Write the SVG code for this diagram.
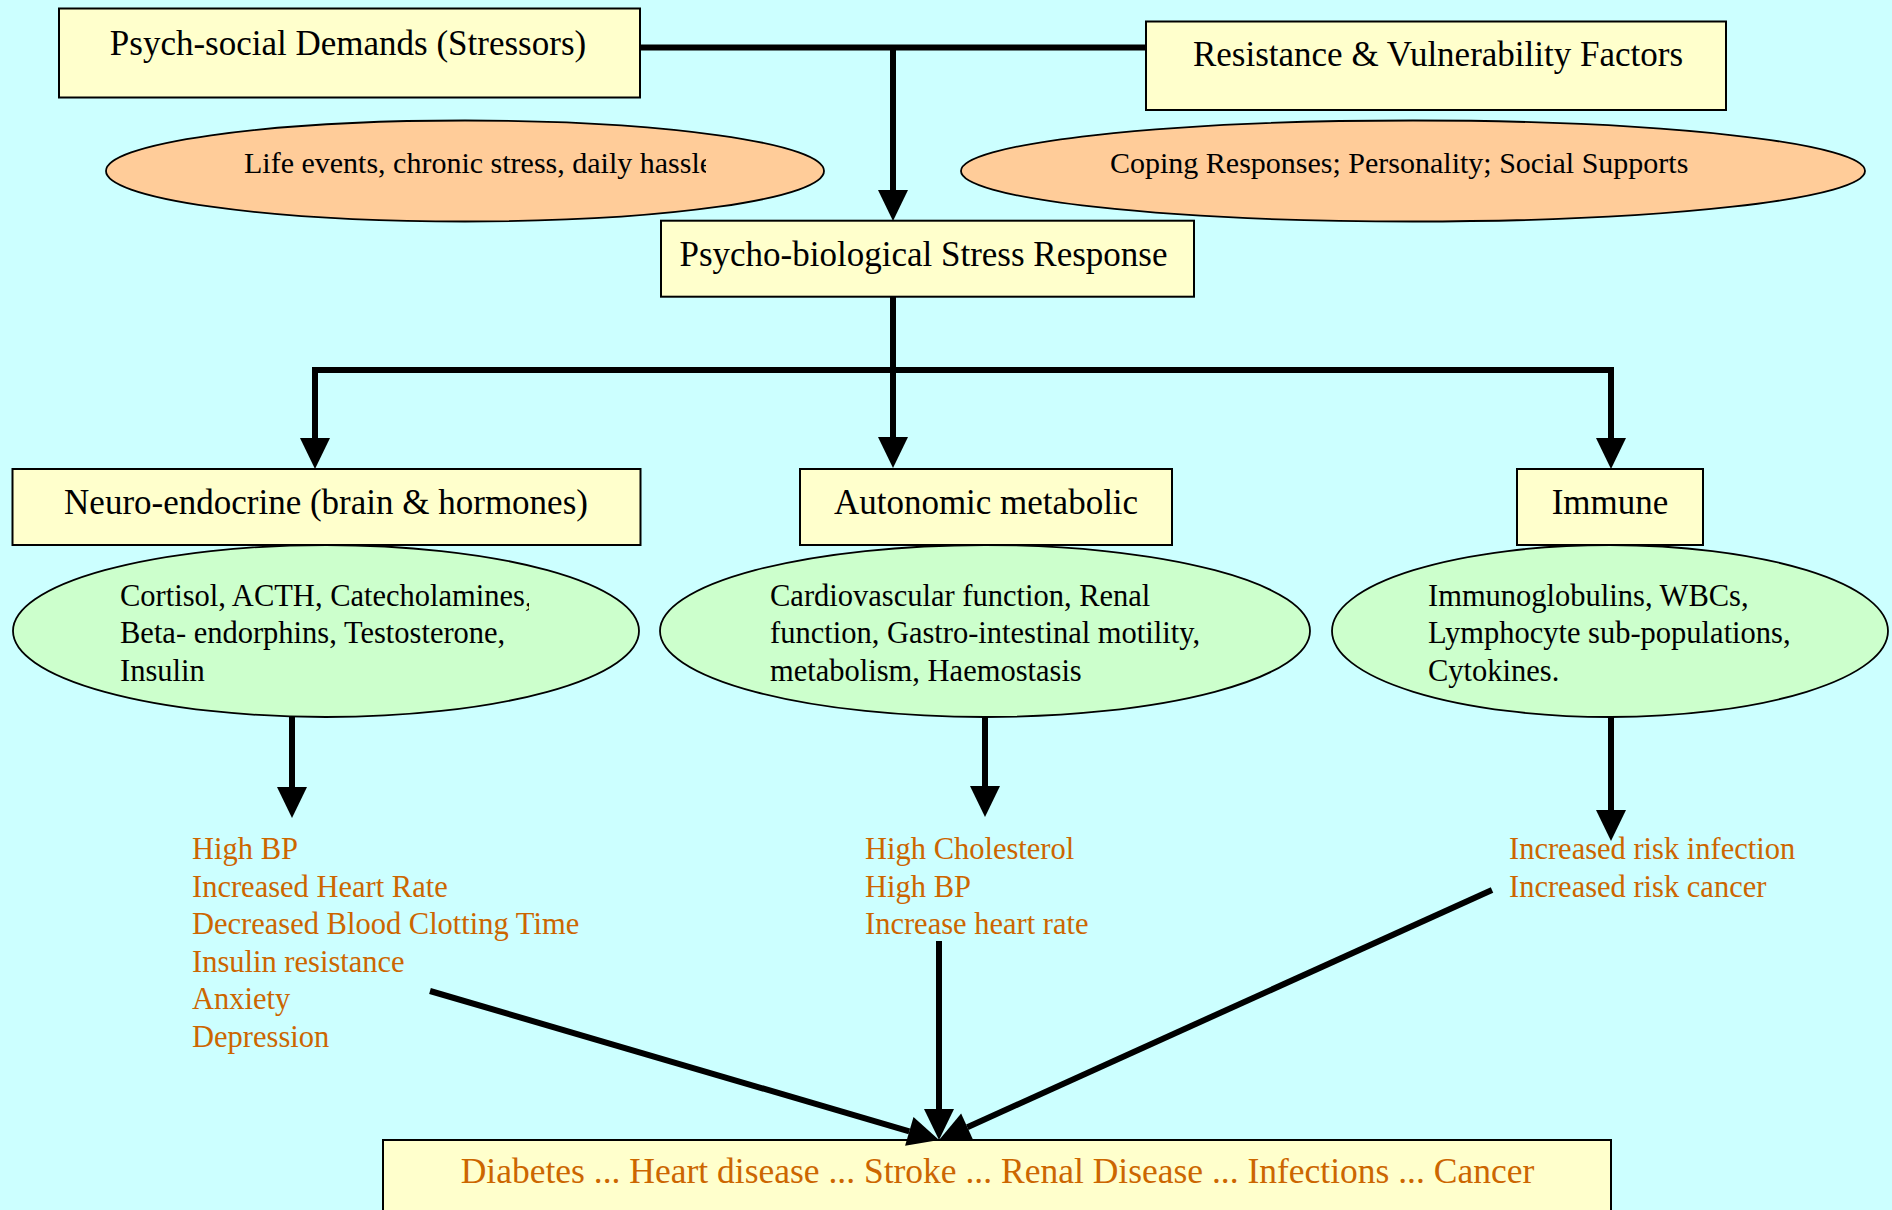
<svg xmlns="http://www.w3.org/2000/svg" width="1892" height="1210" viewBox="0 0 1892 1210">
<style>
.box{fill:#ffffcc;stroke:#000;stroke-width:2}
.peach{fill:#ffcc99;stroke:#000;stroke-width:1.8}
.green{fill:#ccffcc;stroke:#000;stroke-width:1.8}
.bt{font-family:"Liberation Serif","Times New Roman",serif;font-size:35px;fill:#000;text-anchor:middle}
.pt{font-family:"Liberation Serif","Times New Roman",serif;font-size:30px;fill:#000}
.et{font-family:"Liberation Serif","Times New Roman",serif;font-size:30.5px;fill:#000}
.ot{font-family:"Liberation Serif","Times New Roman",serif;font-size:30.5px;fill:#cc6600}
.obt{font-family:"Liberation Serif","Times New Roman",serif;font-size:35.5px;fill:#cc6600;text-anchor:middle}
.c{fill:none;stroke:#000;stroke-width:6;stroke-linejoin:miter;stroke-linecap:butt}
</style>
<defs>
<marker id="ah" markerUnits="userSpaceOnUse" markerWidth="31" markerHeight="30" viewBox="0 0 31 30" refX="0" refY="15" orient="auto" overflow="visible">
<path d="M0,0 L31,15 L0,30 z" fill="#000"/>
</marker>
<clipPath id="clip1"><rect x="0" y="100" width="706" height="120"/></clipPath>
<clipPath id="clip4"><rect x="0" y="570" width="529" height="50"/></clipPath>
</defs>
<rect x="0" y="0" width="1892" height="1210" fill="#ccffff"/>

<g id="n-demands">
<rect class="box" x="59" y="8.5" width="581" height="89"/>
<text class="bt" x="348" y="55">Psych-social Demands (Stressors)</text>
</g>
<g id="n-resistance">
<rect class="box" x="1146" y="21.5" width="580" height="88.5"/>
<text class="bt" x="1438" y="66">Resistance &amp; Vulnerability Factors</text>
</g>
<g id="n-life">
<ellipse class="peach" cx="465" cy="171" rx="359" ry="50.5"/>
<text class="pt" x="244" y="172.7" clip-path="url(#clip1)">Life events, chronic stress, daily hassle</text>
</g>
<g id="n-coping">
<ellipse class="peach" cx="1413" cy="171" rx="452" ry="50.5"/>
<text class="pt" x="1110" y="172.7">Coping Responses; Personality; Social Supports</text>
</g>
<g id="n-response">
<rect class="box" x="661" y="220.7" width="533" height="76"/>
<text class="bt" x="923.5" y="265.7">Psycho-biological Stress Response</text>
</g>
<g id="n-neuro">
<rect class="box" x="12.5" y="469" width="628" height="76"/>
<text class="bt" x="326" y="514">Neuro-endocrine (brain &amp; hormones)</text>
</g>
<g id="n-autonomic">
<rect class="box" x="800" y="469" width="372" height="76"/>
<text class="bt" x="986" y="514">Autonomic metabolic</text>
</g>
<g id="n-immune">
<rect class="box" x="1517" y="469" width="186" height="76"/>
<text class="bt" x="1610" y="514">Immune</text>
</g>
<g id="n-neuro-detail">
<ellipse class="green" cx="326" cy="631" rx="313" ry="86"/>
<text class="et" x="120" y="605.7" clip-path="url(#clip4)">Cortisol, ACTH, Catecholamines,</text>
<text class="et" x="120" y="643">Beta- endorphins, Testosterone,</text>
<text class="et" x="120" y="680.7">Insulin</text>
</g>
<g id="n-autonomic-detail">
<ellipse class="green" cx="985" cy="631" rx="325" ry="86"/>
<text class="et" x="770" y="605.7">Cardiovascular function, Renal</text>
<text class="et" x="770" y="643">function, Gastro-intestinal motility,</text>
<text class="et" x="770" y="680.7">metabolism, Haemostasis</text>
</g>
<g id="n-immune-detail">
<ellipse class="green" cx="1610" cy="631" rx="278" ry="86"/>
<text class="et" x="1428" y="605.7">Immunoglobulins, WBCs,</text>
<text class="et" x="1428" y="643">Lymphocyte sub-populations,</text>
<text class="et" x="1428" y="680.7">Cytokines.</text>
</g>
<g id="n-neuro-effects">
<text class="ot" x="192" y="859.3">High BP</text>
<text class="ot" x="192" y="896.7">Increased Heart Rate</text>
<text class="ot" x="192" y="934">Decreased Blood Clotting Time</text>
<text class="ot" x="192" y="971.7">Insulin resistance</text>
<text class="ot" x="192" y="1009">Anxiety</text>
<text class="ot" x="192" y="1046.7">Depression</text>
</g>
<g id="n-autonomic-effects">
<text class="ot" x="865" y="859.3">High Cholesterol</text>
<text class="ot" x="865" y="896.7">High BP</text>
<text class="ot" x="865" y="934">Increase heart rate</text>
</g>
<g id="n-immune-effects">
<text class="ot" x="1509" y="859.3">Increased risk infection</text>
<text class="ot" x="1509" y="896.7">Increased risk cancer</text>
</g>
<g id="n-diseases">
<rect class="box" x="383" y="1140" width="1228" height="90"/>
<text class="obt" x="997.5" y="1183">Diabetes ... Heart disease ... Stroke ... Renal Disease ... Infections ... Cancer</text>
</g>

<g id="connectors">
<path class="c" d="M640,47.5 L1146,47.5"/>
<path class="c" d="M893,47.5 L893,190" marker-end="url(#ah)"/>
<path class="c" d="M893,297 L893,437" marker-end="url(#ah)"/>
<path class="c" d="M315,438 L315,370 L1611,370 L1611,438" />
<path class="c" d="M315,420 L315,438" marker-end="url(#ah)"/>
<path class="c" d="M1611,420 L1611,438" marker-end="url(#ah)"/>
<path class="c" d="M292,717 L292,787" marker-end="url(#ah)"/>
<path class="c" d="M985,717 L985,786" marker-end="url(#ah)"/>
<path class="c" d="M1611,717 L1611,810" marker-end="url(#ah)"/>
<path class="c" d="M430,991 L909.3,1131.3" marker-end="url(#ah)"/>
<path class="c" d="M939,941 L939,1109" marker-end="url(#ah)"/>
<path class="c" d="M1492,890 L967.3,1127.2" marker-end="url(#ah)"/>
</g>
</svg>
